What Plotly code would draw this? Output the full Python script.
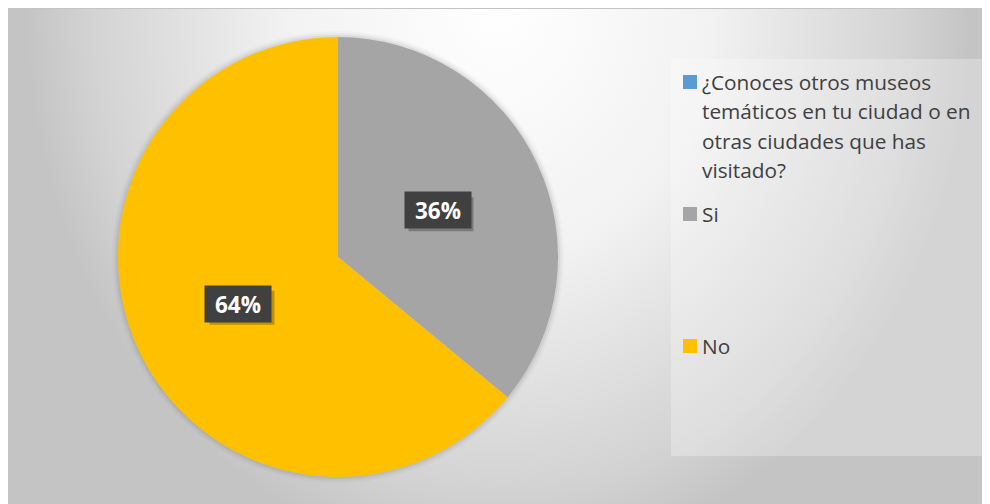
import math
import urllib.parse

import plotly.graph_objects as go

# data
categories = [
    "¿Conoces otros museos temáticos en tu ciudad o en otras ciudades que has visitado?",
    "Si",
    "No",
]
legend_lines = [
    ["¿Conoces otros museos", "temáticos en tu ciudad o en", "otras ciudades que has", "visitado?"],
    ["Si"],
    ["No"],
]
values = [0, 36, 64]
colors = ["#5B9BD5", "#A5A5A5", "#FFC000"]

# the page puts the figure 8px in from the window corner
OFF = 8
W, H = 990 - OFF, 504 - OFF


def px(x):
    return (x - OFF) / W


def py(y):
    return 1 - (y - OFF) / H


# pie geometry (window pixels)
cx, cy, R = 338, 257, 220

# chart-area gradient background as an inline svg
svg = (
    '<svg xmlns="http://www.w3.org/2000/svg" width="985" height="497" viewBox="0 0 985 497">'
    '<defs><radialGradient id="g" gradientUnits="userSpaceOnUse" cx="0" cy="0" r="1" '
    'gradientTransform="translate(492 0) scale(475 560)">'
    '<stop offset="0" stop-color="#ffffff"/>'
    '<stop offset="0.45" stop-color="#f2f2f2"/>'
    '<stop offset="0.63" stop-color="#e4e4e4"/>'
    '<stop offset="0.86" stop-color="#d3d3d3"/>'
    '<stop offset="1" stop-color="#c4c4c4"/>'
    '</radialGradient></defs>'
    '<rect width="985" height="497" fill="url(#g)"/></svg>'
)
bg_src = "data:image/svg+xml;charset=utf-8," + urllib.parse.quote(svg)

fig = go.Figure(go.Pie(
    labels=categories,
    values=values,
    marker=dict(colors=colors, line=dict(width=0)),
    sort=False,
    direction="clockwise",
    rotation=0,
    textinfo="none",
    hoverinfo="label+percent",
    showlegend=False,
    domain=dict(x=[px(cx - R), px(cx + R)], y=[py(cy + R), py(cy - R)]),
))

shapes = []
annotations = []

# soft shadow round the pie
for i, op in enumerate([0.05, 0.035, 0.02]):
    r = R + 2 + 2 * i
    shapes.append(dict(type="circle", xref="paper", yref="paper", layer="below",
                       x0=px(cx - r), x1=px(cx + r), y0=py(cy + r), y1=py(cy - r),
                       fillcolor="rgba(0,0,0,%s)" % op, line=dict(width=0)))

# percentage labels at half radius on each slice bisector
total = sum(values)
cum = 0
for v in values:
    if v > 0:
        theta = math.radians(360 * (cum + v / 2) / total)
        lx = cx + 0.5 * R * math.sin(theta)
        ly = cy - 0.5 * R * math.cos(theta)
        shapes.append(dict(type="rect", xref="paper", yref="paper", layer="above",
                           x0=px(lx - 29), x1=px(lx + 36), y0=py(ly + 21), y1=py(ly - 13),
                           fillcolor="rgba(0,0,0,0.25)", line=dict(width=0)))
        annotations.append(dict(
            x=px(lx), y=py(ly), xref="paper", yref="paper", showarrow=False,
            text="<b>%d%%</b>" % round(100 * v / total),
            font=dict(family="Open Sans", size=22.5, color="white"),
            bgcolor="#404040", width=64, height=34, xanchor="center", yanchor="middle",
        ))
    cum += v

# legend panel
shapes.append(dict(type="rect", xref="paper", yref="paper", layer="below",
                   x0=px(671), x1=px(985), y0=py(456), y1=py(59),
                   fillcolor="rgba(255,255,255,0.28)", line=dict(width=0)))
legend_y = [82, 214, 346]
line_step = 29.3
for lines, col, y0 in zip(legend_lines, colors, legend_y):
    shapes.append(dict(type="rect", xref="paper", yref="paper", layer="above",
                       x0=px(683), x1=px(697), y0=py(y0 + 7), y1=py(y0 - 7),
                       fillcolor=col, line=dict(width=0)))
    for k, ln in enumerate(lines):
        annotations.append(dict(
            x=px(700), y=py(y0 + k * line_step), xref="paper", yref="paper",
            showarrow=False, text=ln, xanchor="left", yanchor="middle",
            font=dict(family="Open Sans", size=20.8, color="#404040"),
        ))

# chart area top border
shapes.append(dict(type="line", xref="paper", yref="paper", layer="below",
                   x0=0, x1=1, y0=py(8.5), y1=py(8.5),
                   line=dict(color="#c4c4c4", width=1)))

fig.update_layout(
    width=W, height=H,
    margin=dict(l=0, r=0, t=0, b=0),
    paper_bgcolor="white",
    images=[dict(source=bg_src, xref="paper", yref="paper", x=0, y=1,
                 sizex=1, sizey=1, sizing="stretch",
                 xanchor="left", yanchor="top", layer="below")],
    shapes=shapes,
    annotations=annotations,
)

fig.write_html("out.html")
